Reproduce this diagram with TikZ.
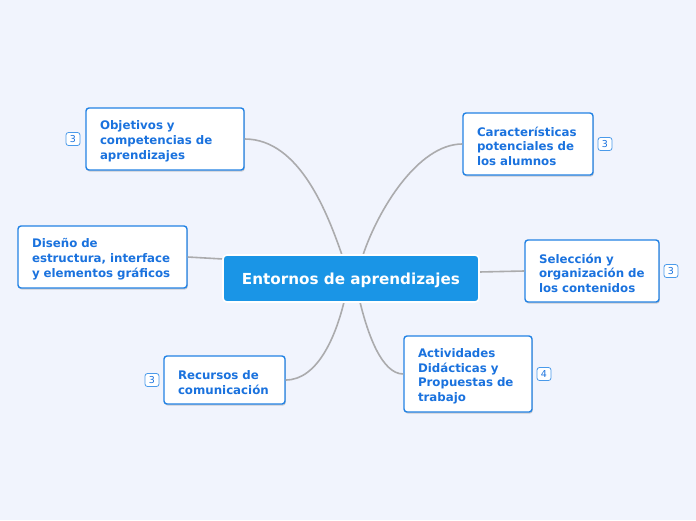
\documentclass[tikz,border=0pt]{standalone}
\usepackage{fontspec}
\setmainfont{DejaVu Sans}
\usetikzlibrary{calc,shadows}
\definecolor{bgc}{HTML}{F1F4FD}
\definecolor{nblue}{HTML}{1A72DE}
\definecolor{bord}{HTML}{2282E4}
\definecolor{bbord}{HTML}{4A9AEA}
\definecolor{cfill}{HTML}{1A95E6}
\definecolor{conn}{HTML}{ABABAD}
\tikzset{
  topic/.style={draw=bord, line width=1.4pt, fill=white, rounded corners=3pt,
    text=nblue, font=\fontsize{11.8}{14.7}\selectfont\bfseries, align=left,
    inner xsep=14pt, inner ysep=0pt,
    execute at begin node={\rule{0pt}{13.7pt}},
    drop shadow={opacity=0.35, shadow xshift=0.8pt, shadow yshift=-1.6pt}},
  central/.style={draw=white, line width=1.6pt, fill=cfill, rounded corners=4pt,
    text=white, font=\fontsize{15.2}{18}\selectfont\bfseries, text depth=0pt,
    minimum width=256pt, minimum height=47pt},
  badge/.style={draw=bbord, line width=0.8pt, fill=white, rounded corners=2.5pt,
    text=nblue, font=\fontsize{9.5}{11}\selectfont, minimum width=14pt, minimum height=13pt, inner sep=0pt},
  link/.style={draw=conn, line width=1.6pt}
}
\begin{document}
\begin{tikzpicture}[x=1pt,y=-1pt]
\useasboundingbox[fill=bgc] (0,0) rectangle (696,520);
\coordinate (c1) at (342,255);
\coordinate (c2) at (363,255);
\coordinate (c3) at (223,259);
\coordinate (c4) at (479,272);
\coordinate (c5) at (344,302);
\coordinate (c6) at (360,302);
\node[topic, minimum width=158pt, minimum height=62pt, text width=130pt] (obj) at (165,139) {Objetivos y\\competencias de\\aprendizajes};
\node[topic, minimum width=130pt, minimum height=62pt, text width=102pt] (car) at (528,144) {Características\\potenciales de\\los alumnos};
\node[topic, minimum width=169pt, minimum height=62pt, text width=141pt] (dis) at (102.5,257) {Diseño de\\estructura, interface\\y elementos gráficos};
\node[topic, minimum width=134pt, minimum height=62pt, text width=106pt] (sel) at (592,271) {Selección y\\organización de\\los contenidos};
\node[topic, minimum width=121pt, minimum height=48pt, text width=93pt] (rec) at (224.5,380) {Recursos de\\comunicación};
\node[topic, minimum width=128pt, minimum height=76pt, text width=100pt] (act) at (468,374) {Actividades\\Didácticas y\\Propuestas de\\trabajo};
\draw[link] (obj.east) .. controls (300,139) and (328,215) .. (c1);
\draw[link] (car.west) .. controls (418,144) and (378,210) .. (c2);
\draw[link] (dis.east) -- (c3);
\draw[link] (sel.west) -- (c4);
\draw[link] (rec.east) .. controls (318,380) and (336,335) .. (c5);
\draw[link] (act.west) .. controls (382,374) and (368,335) .. (c6);
\node[central] (cen) at (351,278.5) {Entornos de aprendizajes};
\node[badge] (b1) at (73,139) {3};
\node[badge] (b2) at (605,144) {3};
\node[badge] (b4) at (671,271) {3};
\node[badge] (b5) at (152,380) {3};
\node[badge] (b6) at (544,374) {4};
\end{tikzpicture}
\end{document}
